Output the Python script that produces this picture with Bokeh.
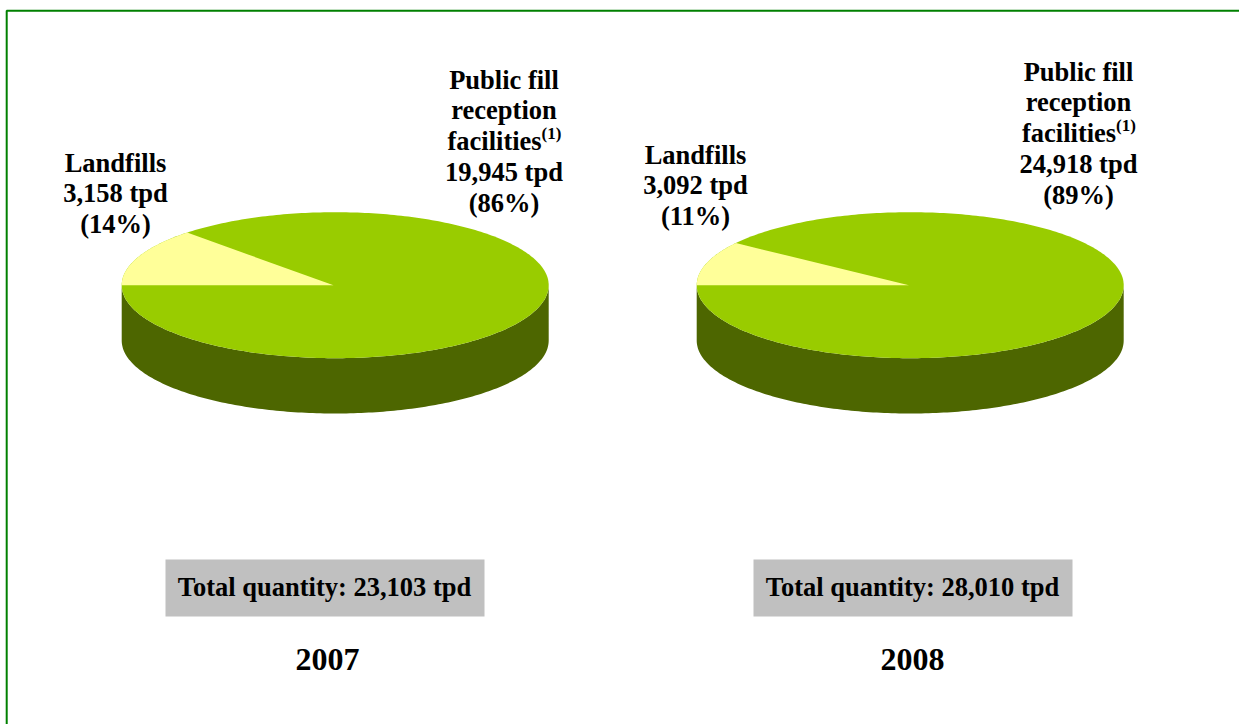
import numpy as np
from bokeh.embed import file_html
from bokeh.resources import INLINE
from bokeh.plotting import figure
from bokeh.core.properties import value

# ---- data ----
years = ["2007", "2008"]
landfill_tpd = [3158, 3092]
landfill_pct = [14, 11]
public_fill_tpd = [19945, 24918]
public_fill_pct = [86, 89]
total_tpd = [23103, 28010]
# share of the ellipse the pale slice occupies as actually drawn (%)
landfill_drawn_share = [12.8, 9.8]

# ---- colours ----
TOP = "#99cc00"
SIDE = "#4d6600"
SLICE = "#ffff99"
BOX = "#c0c0c0"
FRAME = "#008000"
FONT = "Liberation Serif"

# ---- layout (px) ----
W, H = 1239, 724
CX = [334.7, 909.7]
APEX_X = [333, 908.5]
CY, RX, RY, DEPTH = 284.7, 213.5, 73, 55.3
BOX_X0 = [165, 753]
BOX_X1 = [484, 1072]
BOX_Y0, BOX_Y1 = 559, 616
BOX_TEXT_X = [324.5, 912.5]
YEAR_X = [327, 912]
PUB_X = [503.5, 1078]
PUB_Y = [79, 71]
LAND_X = [115, 695]
LAND_Y = [162, 154]
LINE = 30.8

p = figure(width=W, height=H, x_range=(0, W), y_range=(H, 0),
           toolbar_location=None, output_backend="svg", min_border=0,
           styles={"position": "absolute", "left": "0px", "top": "0px"})
p.axis.visible = False
p.grid.visible = False
p.outline_line_color = None
p.background_fill_color = "white"
p.border_fill_color = "white"

# frame
p.multi_line([[6.2, 6.2, W]], [[H, 10.2, 10.2]], line_color=FRAME, line_width=2)


def label(x, y, text, size, align="center"):
    p.text([x], [y], text=[text], text_font=value(FONT), text_font_style="bold",
           text_font_size=size, text_align=align, text_baseline="middle",
           text_color="black")


for i, yr in enumerate(years):
    cx, ax = CX[i], APEX_X[i]
    # side wall: lower half of the ellipse, extruded downward
    t = np.radians(np.linspace(180, 360, 181))
    ex, ey = cx + RX * np.cos(t), CY - RY * np.sin(t)
    p.patch(np.r_[ex, ex[::-1]], np.r_[ey, ey[::-1] + DEPTH], fill_color=SIDE, line_color=None)
    # top ellipse
    t = np.radians(np.linspace(0, 360, 361))
    p.patch(cx + RX * np.cos(t), CY - RY * np.sin(t), fill_color=TOP, line_color=None)
    # landfill slice, running clockwise from the leftmost point
    sweep = landfill_drawn_share[i] / 100 * 360
    t = np.radians(np.linspace(180, 180 - sweep, 60))
    p.patch(np.r_[ax, cx + RX * np.cos(t)], np.r_[CY, CY - RY * np.sin(t)],
            fill_color=SLICE, line_color=None)

    # grey total box
    p.quad(left=[BOX_X0[i]], right=[BOX_X1[i]], top=[BOX_Y0], bottom=[BOX_Y1],
           fill_color=BOX, line_color=None)
    label(BOX_TEXT_X[i] - 0.5, 586, f"Total quantity: {total_tpd[i]:,} tpd", "26.5px")
    label(YEAR_X[i], 659, yr, "32px")

    # landfill label
    for k, s in enumerate(["Landfills", f"{landfill_tpd[i]:,} tpd", f"({landfill_pct[i]}%)"]):
        label(LAND_X[i], LAND_Y[i] + k * LINE, s, "26.5px")

    # public fill label
    px, py = PUB_X[i], PUB_Y[i]
    for k, s in enumerate(["Public fill", "reception", None,
                           f"{public_fill_tpd[i]:,} tpd", f"({public_fill_pct[i]}%)"]):
        if s is not None:
            label(px, py + k * LINE, s, "26.5px")
    label(px - 56.5, py + 2 * LINE, "facilities", "26.5px", "left")
    label(px + 37.5, py + 2 * LINE - 8, "(1)", "17px", "left")

open("out.html", "w").write(file_html(p, INLINE))
